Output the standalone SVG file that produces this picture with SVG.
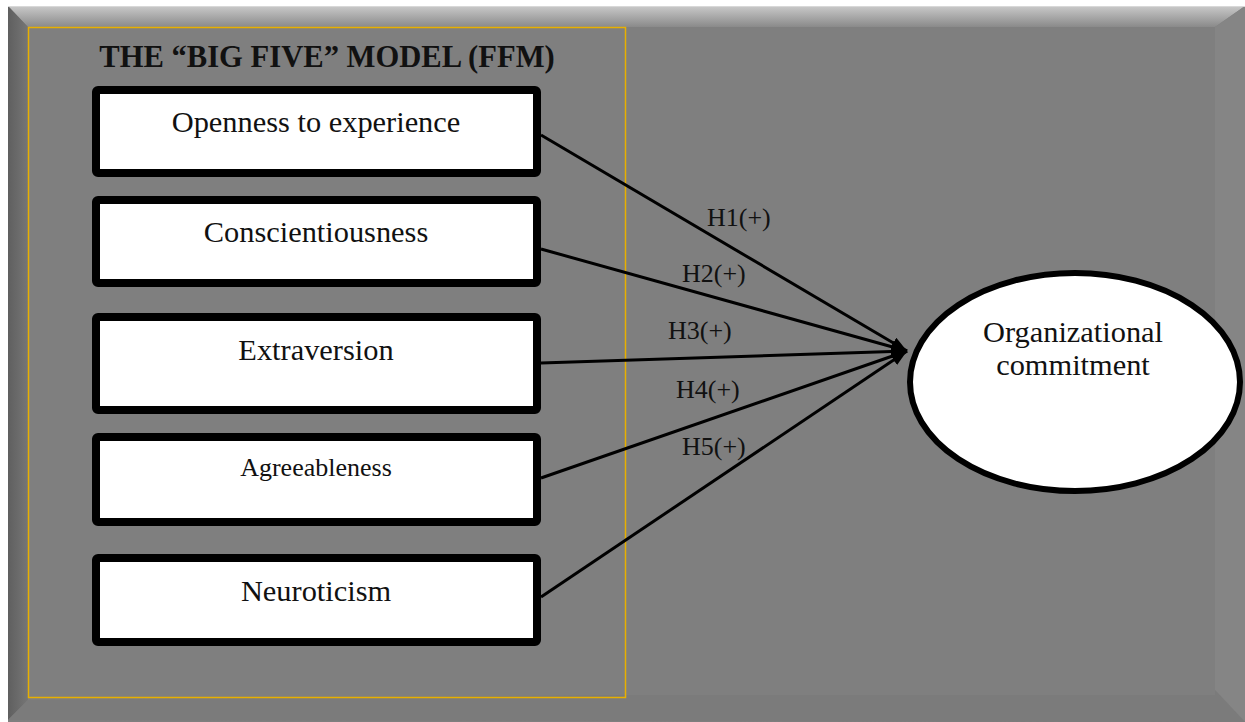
<svg xmlns="http://www.w3.org/2000/svg" width="1245" height="722" viewBox="0 0 1245 722">
<defs>
<linearGradient id="gTop" x1="0" y1="0" x2="0" y2="1"><stop offset="0" stop-color="#c9c9c9"/><stop offset="1" stop-color="#8a8a8a"/></linearGradient>
<linearGradient id="gLeft" x1="0" y1="0" x2="1" y2="0"><stop offset="0" stop-color="#5f5f5f"/><stop offset="1" stop-color="#767676"/></linearGradient>
<marker id="arr" viewBox="0 0 16 12" refX="16" refY="6" markerWidth="16" markerHeight="12" markerUnits="userSpaceOnUse" orient="auto"><path d="M0,0 L16,6 L0,12 z" fill="#000"/></marker>
<style>
.box{fill:#fff;stroke:#000;stroke-width:8}
.t{font-family:"Liberation Serif","Times New Roman",serif;font-size:30.4px;fill:#111;text-anchor:middle}
.h{font-family:"Liberation Serif","Times New Roman",serif;font-size:26px;fill:#111}
.c{stroke:#000;stroke-width:3;fill:none;marker-end:url(#arr)}
</style>
</defs>
<rect x="0" y="0" width="1245" height="722" fill="#fff"/>
<rect x="8" y="6" width="1237" height="716" fill="#7f7f7f"/>
<polygon points="8,6 1245,6 1215,27 28,27" fill="url(#gTop)"/>
<polygon points="8,6 28,27 28,700 8,720" fill="url(#gLeft)"/>
<polygon points="1245,6 1245,722 1215,690 1215,27" fill="#858585"/>
<polygon points="8,720 28,700 1215,690 1245,722" fill="#7b7b7b"/>
<rect x="28" y="27" width="1187" height="668" fill="#7f7f7f"/>
<line x1="8" y1="6.5" x2="1245" y2="6.5" stroke="#d8d8d8" stroke-width="1"/>
<rect id="ffm" x="28.5" y="27.5" width="597" height="670" fill="none" stroke="#e8b000" stroke-width="1.5"/>
<text class="t" x="327" y="67" font-weight="bold" fill="#000" style="font-size:30.6px">THE “BIG FIVE” MODEL (FFM)</text>
<g id="connectors">
<line class="c" x1="541" y1="135" x2="907" y2="351"/>
<line class="c" x1="541" y1="249" x2="907" y2="351"/>
<line class="c" x1="541" y1="363" x2="907" y2="351"/>
<line class="c" x1="541" y1="478" x2="907" y2="351"/>
<line class="c" x1="541" y1="597" x2="907" y2="351"/>
<text class="h" x="707" y="226">H1(+)</text>
<text class="h" x="682" y="282">H2(+)</text>
<text class="h" x="668" y="339">H3(+)</text>
<text class="h" x="676" y="398">H4(+)</text>
<text class="h" x="682" y="455">H5(+)</text>
</g>
<g id="openness"><rect class="box" x="96" y="90" width="441" height="83" rx="2"/><text class="t" x="316" y="132">Openness to experience</text></g>
<g id="conscientiousness"><rect class="box" x="96" y="200" width="441" height="83" rx="2"/><text class="t" x="316" y="242">Conscientiousness</text></g>
<g id="extraversion"><rect class="box" x="96" y="317" width="441" height="93" rx="2"/><text class="t" x="316" y="360">Extraversion</text></g>
<g id="agreeableness"><rect class="box" x="96" y="437" width="441" height="85" rx="2"/><text class="t" x="316" y="476" style="font-size:26px">Agreeableness</text></g>
<g id="neuroticism"><rect class="box" x="96" y="558" width="441" height="84" rx="2"/><text class="t" x="316" y="601">Neuroticism</text></g>
<g id="commitment"><ellipse cx="1075" cy="382" rx="165" ry="109" fill="#fff" stroke="#000" stroke-width="6"/><text class="t" x="1073" y="342">Organizational</text><text class="t" x="1073" y="375">commitment</text></g>
</svg>
